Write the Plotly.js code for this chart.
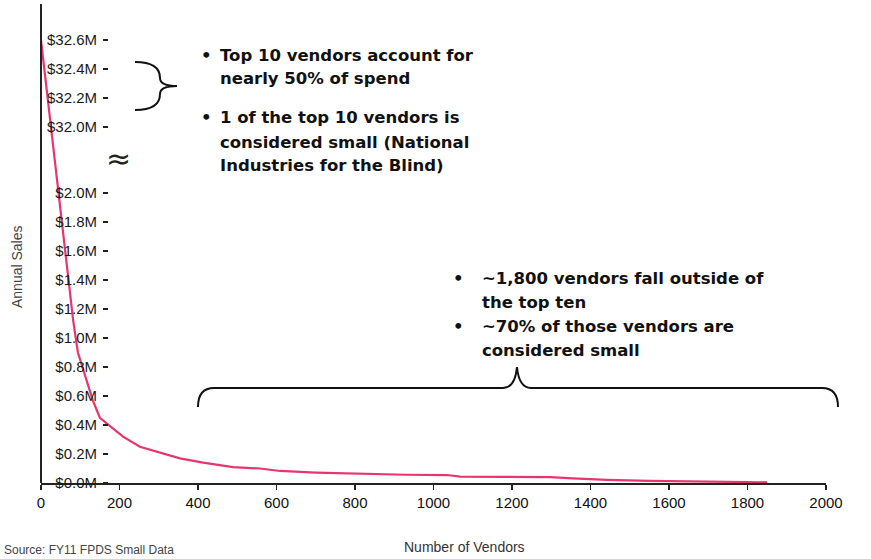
<!DOCTYPE html>
<html>
<head>
<meta charset="utf-8">
<script src="https://cdn.plot.ly/plotly-3.0.1.min.js"></script>
<style>
html,body{margin:0;padding:0;background:#ffffff;}
#chart{width:871px;height:559px;}
</style>
</head>
<body>
<div id="chart"></div>
<script>
// ---- Data ----
// Vendor rank (number of vendors) and annual sales in $ millions
const vendorRank   = [0, 82, 94, 112, 132, 150, 176, 209, 252, 303, 354, 413, 489, 558, 609, 700, 820, 930, 1034, 1068, 1180, 1297, 1355, 1442, 1550, 1650, 1750, 1850];
const annualSalesM = [32.6, 1.12, 0.90, 0.74, 0.57, 0.45, 0.39, 0.32, 0.25, 0.21, 0.17, 0.14, 0.11, 0.10, 0.083, 0.072, 0.062, 0.057, 0.055, 0.044, 0.042, 0.040, 0.032, 0.022, 0.015, 0.010, 0.007, 0.005];

// Tick values / labels
const xTickValues  = [0, 200, 400, 600, 800, 1000, 1200, 1400, 1600, 1800, 2000];
const yTickValuesM = [0.0, 0.2, 0.4, 0.6, 0.8, 1.0, 1.2, 1.4, 1.6, 1.8, 2.0, 32.0, 32.2, 32.4, 32.6];
const yTickLabels  = yTickValuesM.map(v => '$' + v.toFixed(1) + 'M');

// Text
const topNotes = [
  ['Top 10 vendors account for', 'nearly 50% of spend'],
  ['1 of the top 10 vendors is', 'considered small (National', 'Industries for the Blind)']
];
const bottomNotes = [
  ['~1,800 vendors fall outside of', 'the top ten'],
  ['~70% of those vendors are', 'considered small']
];
const sourceNote = 'Source: FY11 FPDS Small Data';

// ---- Broken y axis: values between 2.0M and 32.0M are squeezed into a small gap ----
const BREAK_LOW = 2.0, BREAK_HIGH = 32.0, BREAK_GAP = 0.455;
function toAxis(v){
  if (v <= BREAK_LOW) return v;
  if (v >= BREAK_HIGH) return BREAK_LOW + BREAK_GAP + (v - BREAK_HIGH);
  return BREAK_LOW + (v - BREAK_LOW) / (BREAK_HIGH - BREAK_LOW) * BREAK_GAP;
}

// ---- Geometry ----
const W = 871, H = 559, ML = 41, MR = 45, MT = 4, MB = 76;
const PW = W - ML - MR, PH = H - MT - MB;
const px = x => (x - ML) / PW;          // pixel -> paper x
const py = y => (H - MB - y) / PH;      // pixel -> paper y
const YMAX = PH / 145;                  // 145 px per $1M

const TXT = {family: 'DejaVu Sans, Liberation Sans, Arial, sans-serif', size: 16.5, color: '#111111', weight: 'bold'};

const annotations = [];
function addText(text, x, y, font, extra){
  annotations.push(Object.assign({
    text: text, xref: 'paper', yref: 'paper', x: px(x), y: py(y),
    xanchor: 'left', yanchor: 'middle', showarrow: false, font: font
  }, extra || {}));
}

// top-left notes
const topY = [[55, 79], [118, 142, 165]];
topNotes.forEach((block, i) => {
  addText('•', 199, topY[i][0], TXT);
  block.forEach((line, j) => addText(line, 218, topY[i][j], TXT));
});
// bottom-right notes
const botY = [[278, 302], [327, 350]];
bottomNotes.forEach((block, i) => {
  addText('•', 451, botY[i][0], TXT);
  block.forEach((line, j) => addText(line, 480, botY[i][j], TXT));
});

// axis break sign
addText('≈', 118, 159, {family: 'DejaVu Sans, sans-serif', size: 30, color: '#222'}, {xanchor: 'center'});

// axis titles
addText('Annual Sales', 17, 267, {family: 'Liberation Sans, Arial, sans-serif', size: 14, color: '#444'}, {xanchor: 'center', textangle: -90});
addText('Number of Vendors', 464, 547, {family: 'Liberation Sans, Arial, sans-serif', size: 14, color: '#333'}, {xanchor: 'center'});

// source line
addText(sourceNote, 2, 550, {family: 'Liberation Sans, Arial, sans-serif', size: 12, color: '#444'}, {xanchor: 'left'});

// braces
const topBrace = 'M' + px(135) + ',' + py(62) +
  ' Q' + px(160) + ',' + py(62) + ' ' + px(160) + ',' + py(78) +
  ' Q' + px(160) + ',' + py(86) + ' ' + px(177) + ',' + py(86) +
  ' Q' + px(160) + ',' + py(86) + ' ' + px(160) + ',' + py(94) +
  ' Q' + px(160) + ',' + py(110) + ' ' + px(135) + ',' + py(110);
const bottomBrace = 'M' + px(198) + ',' + py(407) +
  ' Q' + px(198) + ',' + py(388) + ' ' + px(214) + ',' + py(388) +
  ' L' + px(503) + ',' + py(388) +
  ' Q' + px(515) + ',' + py(388) + ' ' + px(517) + ',' + py(367) +
  ' Q' + px(519) + ',' + py(388) + ' ' + px(531) + ',' + py(388) +
  ' L' + px(822) + ',' + py(388) +
  ' Q' + px(838) + ',' + py(388) + ' ' + px(838) + ',' + py(407);

const shapes = [
  {type: 'line', xref: 'paper', yref: 'paper', x0: 0, x1: 0, y0: 0, y1: 1, line: {color: '#222222', width: 2}},
  {type: 'path', xref: 'paper', yref: 'paper', path: topBrace, line: {color: '#111111', width: 2}},
  {type: 'path', xref: 'paper', yref: 'paper', path: bottomBrace, line: {color: '#111111', width: 2}}
];

const trace = {
  x: vendorRank,
  y: annualSalesM.map(toAxis),
  customdata: annualSalesM,
  type: 'scatter', mode: 'lines',
  line: {color: '#e8356d', width: 2.2},
  cliponaxis: false,
  hoverinfo: 'skip'
};

const layout = {
  width: W, height: H,
  margin: {l: ML, r: MR, t: MT, b: MB, pad: 0},
  paper_bgcolor: '#ffffff', plot_bgcolor: '#ffffff',
  showlegend: false,
  xaxis: {
    range: [0, 2000], tickvals: xTickValues, ticktext: xTickValues.map(String),
    showline: true, linecolor: '#222222', linewidth: 2,
    ticks: 'outside', ticklen: 5, tickwidth: 1.5, tickcolor: '#222222',
    tickfont: {family: 'Liberation Sans, Arial, sans-serif', size: 15, color: '#111111'},
    showgrid: false, zeroline: false, automargin: false, fixedrange: true
  },
  yaxis: {
    range: [0, YMAX], tickvals: yTickValuesM.map(toAxis), ticktext: yTickLabels,
    anchor: 'free', position: px(108), side: 'left',
    showline: false, ticks: 'outside', ticklen: 5, tickwidth: 2, tickcolor: '#222222',
    ticklabelstandoff: 3,
    tickfont: {family: 'Liberation Sans, Arial, sans-serif', size: 15, color: '#1a1a1a'},
    showgrid: false, zeroline: false, automargin: false, fixedrange: true
  },
  shapes: shapes,
  annotations: annotations
};

Plotly.newPlot('chart', [trace], layout, {displayModeBar: false, staticPlot: true});
</script>
</body>
</html>
